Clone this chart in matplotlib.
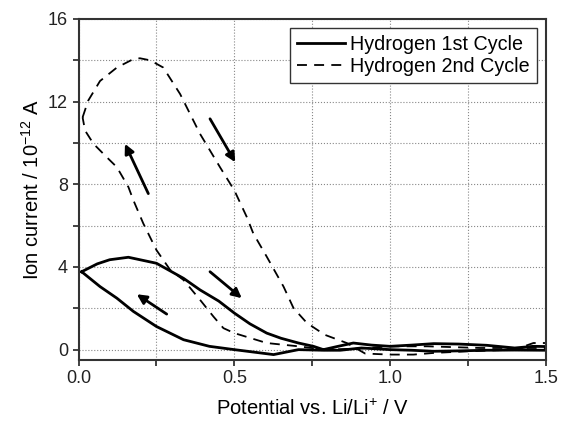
import matplotlib
matplotlib.use("Agg")
from matplotlib import pyplot as plt
from matplotlib.ticker import MultipleLocator

plt.rcParams['font.family'] = ['Liberation Sans', 'DejaVu Sans']
plt.rcParams['mathtext.fontset'] = 'custom'
plt.rcParams['mathtext.rm'] = 'Liberation Sans'
plt.rcParams['mathtext.it'] = 'Liberation Sans'
plt.rcParams['mathtext.default'] = 'regular'

# 1st cycle: forward scan (upper) then reverse (lower)
cycle1_v = [0.01, 0.06, 0.10, 0.16, 0.25, 0.337, 0.39, 0.45, 0.5, 0.55, 0.604, 0.65, 0.706, 0.754, 0.786,
            0.83, 0.882, 0.94, 1.0, 1.07, 1.14, 1.22, 1.31, 1.40, 1.46, 1.5,
            1.5, 1.40, 1.31, 1.22, 1.14, 1.07, 1.0, 0.908, 0.84, 0.786, 0.706, 0.626, 0.5, 0.42,
            0.337, 0.25, 0.176, 0.123, 0.069, 0.01]
cycle1_i = [3.77, 4.15, 4.35, 4.47, 4.18, 3.45, 2.89, 2.35, 1.77, 1.25, 0.80, 0.55, 0.32, 0.16, 0.0,
            0.15, 0.32, 0.22, 0.16, 0.22, 0.29, 0.27, 0.21, 0.08, 0.16, 0.15,
            -0.03, -0.02, -0.03, -0.06, -0.08, -0.03, 0.0, 0.08, -0.03, -0.03, 0.0, -0.24, 0.0, 0.16,
            0.48, 1.12, 1.85, 2.49, 3.05, 3.77]

# 2nd cycle
cycle2_v = [0.013, 0.031, 0.069, 0.123, 0.176, 0.197, 0.23, 0.272, 0.326, 0.39, 0.454, 0.5, 0.54, 0.561,
            0.604, 0.658, 0.69, 0.733, 0.79, 0.861, 0.92, 1.0, 1.075, 1.14, 1.25, 1.4, 1.46, 1.5,
            1.5, 1.29, 1.12, 1.0, 0.9, 0.79, 0.706, 0.604, 0.5, 0.465, 0.433, 0.39, 0.337, 0.294,
            0.25, 0.208, 0.176, 0.16, 0.123, 0.09, 0.048, 0.021, 0.013]
cycle2_i = [11.24, 12.05, 13.0, 13.65, 14.06, 14.1, 14.0, 13.65, 12.37, 10.44, 8.83, 7.71, 6.42, 5.62,
            4.5, 3.05, 2.01, 1.29, 0.72, 0.32, -0.19, -0.24, -0.24, -0.16, -0.08, 0.0, 0.32, 0.32,
            0.08, 0.08, 0.16, 0.16, 0.05, 0.0, 0.16, 0.32, 0.8, 1.04, 1.6, 2.41, 3.37, 3.86,
            4.82, 6.1, 7.23, 7.87, 8.83, 9.32, 9.96, 10.6, 11.24]

# scan direction arrows (tail, head)
arrows = [((0.224, 7.55), (0.149, 9.96)),
          ((0.422, 11.17), (0.503, 9.07)),
          ((0.422, 3.77), (0.524, 2.49)),
          ((0.283, 1.72), (0.187, 2.68))]

fig = plt.figure(figsize=(5.61, 4.22), dpi=100)
ax = fig.add_axes([0.14, 0.147, 0.833, 0.808])

ax.plot(cycle1_v, cycle1_i, color='black', lw=2.0, label='Hydrogen 1st Cycle')
ax.plot(cycle2_v, cycle2_i, color='black', lw=1.3, ls=(0, (5.5, 4)), label='Hydrogen 2nd Cycle')

for tail, head in arrows:
    ax.annotate('', xy=head, xytext=tail,
                arrowprops=dict(arrowstyle='-|>', color='black', lw=2, mutation_scale=14,
                                shrinkA=0, shrinkB=0))

ax.set_xlim(0, 1.5)
ax.set_ylim(-0.5, 16)
ax.xaxis.set_major_locator(MultipleLocator(0.5))
ax.xaxis.set_minor_locator(MultipleLocator(0.25))
ax.yaxis.set_major_locator(MultipleLocator(4))
ax.yaxis.set_minor_locator(MultipleLocator(2))
ax.xaxis.set_major_formatter(plt.FormatStrFormatter('%.1f'))
ax.grid(which='both', color='#888888', ls=':', lw=0.8)
ax.set_axisbelow(True)
ax.tick_params(which='both', direction='out', length=4, width=1.2, labelsize=13, colors='#222222')
for s in ax.spines.values():
    s.set_linewidth(1.5)
    s.set_color('#333333')

ax.set_xlabel('Potential vs. Li/Li$^{+}$ / V', fontsize=14.5, labelpad=8)
ax.set_ylabel('Ion current / 10$^{-12}$ A', fontsize=14.5, labelpad=4)

leg = ax.legend(loc='upper right', fontsize=14.2, frameon=True, fancybox=False,
                edgecolor='#333333', framealpha=1, borderpad=0.35, labelspacing=0.15,
                handlelength=2.4, handletextpad=0.3, borderaxespad=0.45)
leg.get_frame().set_linewidth(1.0)

fig.savefig('out.png', dpi=100)
